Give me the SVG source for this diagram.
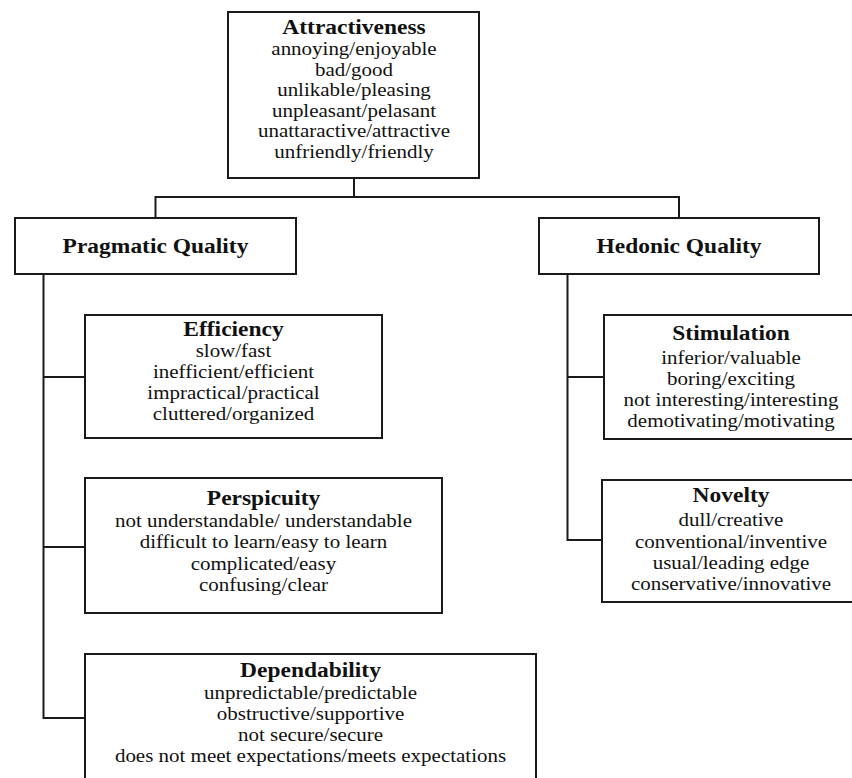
<svg xmlns="http://www.w3.org/2000/svg" width="852" height="778" viewBox="0 0 852 778">
<style>
.box{fill:#fff;stroke:#1a1a1a;stroke-width:2}
.ln{fill:none;stroke:#1a1a1a;stroke-width:2}
text{font-family:"Liberation Serif","Times New Roman",serif;fill:#111;text-anchor:middle}
.t{font-weight:bold;font-size:20.6px}
.b{font-size:18.4px}
</style>
<rect width="852" height="778" fill="#fff"/>
<g id="connectors">
<path class="ln" d="M354,178 V197 M155.5,197 H679 M155.5,196 V218 M679,196 V218"/>
<path class="ln" d="M43.5,274 V718 M42.5,377 H85 M42.5,547 H85 M42.5,718 H85"/>
<path class="ln" d="M567.5,274 V540 M566.5,377 H604 M566.5,540 H602"/>
</g>
<g id="attractiveness">
<rect class="box" x="228" y="12" width="251" height="166"/>
<g transform="translate(354,0) scale(1.14,1)">
<text class="t" x="0" y="34">Attractiveness</text>
<text class="b" x="0" y="55.5">annoying/enjoyable</text>
<text class="b" x="0" y="76">bad/good</text>
<text class="b" x="0" y="96.5">unlikable/pleasing</text>
<text class="b" x="0" y="117">unpleasant/pelasant</text>
<text class="b" x="0" y="137.5">unattaractive/attractive</text>
<text class="b" x="0" y="158">unfriendly/friendly</text>
</g>
</g>
<g id="pragmatic">
<rect class="box" x="15" y="218" width="281" height="56"/>
<g transform="translate(155.5,0) scale(1.14,1)">
<text class="t" x="0" y="253">Pragmatic Quality</text>
</g>
</g>
<g id="hedonic">
<rect class="box" x="539" y="218" width="280" height="56"/>
<g transform="translate(679,0) scale(1.14,1)">
<text class="t" x="0" y="253">Hedonic Quality</text>
</g>
</g>
<g id="efficiency">
<rect class="box" x="85" y="315" width="297" height="123"/>
<g transform="translate(233.5,0) scale(1.14,1)">
<text class="t" x="0" y="336">Efficiency</text>
<text class="b" x="0" y="357.5">slow/fast</text>
<text class="b" x="0" y="378.5">inefficient/efficient</text>
<text class="b" x="0" y="399">impractical/practical</text>
<text class="b" x="0" y="420">cluttered/organized</text>
</g>
</g>
<g id="perspicuity">
<rect class="box" x="85" y="478" width="357" height="135"/>
<g transform="translate(263.5,0) scale(1.14,1)">
<text class="t" x="0" y="505">Perspicuity</text>
<text class="b" x="0" y="527">not understandable/ understandable</text>
<text class="b" x="0" y="548">difficult to learn/easy to learn</text>
<text class="b" x="0" y="570">complicated/easy</text>
<text class="b" x="0" y="591">confusing/clear</text>
</g>
</g>
<g id="dependability">
<rect class="box" x="85" y="654" width="451" height="130"/>
<g transform="translate(310.5,0) scale(1.14,1)">
<text class="t" x="0" y="677">Dependability</text>
<text class="b" x="0" y="699">unpredictable/predictable</text>
<text class="b" x="0" y="720">obstructive/supportive</text>
<text class="b" x="0" y="741.5">not secure/secure</text>
<text class="b" x="0" y="762.5">does not meet expectations/meets expectations</text>
</g>
</g>
<g id="stimulation">
<rect class="box" x="604" y="315" width="260" height="124"/>
<g transform="translate(731,0) scale(1.14,1)">
<text class="t" x="0" y="340">Stimulation</text>
<text class="b" x="0" y="364">inferior/valuable</text>
<text class="b" x="0" y="385">boring/exciting</text>
<text class="b" x="0" y="406">not interesting/interesting</text>
<text class="b" x="0" y="427">demotivating/motivating</text>
</g>
</g>
<g id="novelty">
<rect class="box" x="602" y="480" width="262" height="122"/>
<g transform="translate(731,0) scale(1.14,1)">
<text class="t" x="0" y="502.5">Novelty</text>
<text class="b" x="0" y="526.5">dull/creative</text>
<text class="b" x="0" y="548">conventional/inventive</text>
<text class="b" x="0" y="569.5">usual/leading edge</text>
<text class="b" x="0" y="590.5">conservative/innovative</text>
</g>
</g>
</svg>
